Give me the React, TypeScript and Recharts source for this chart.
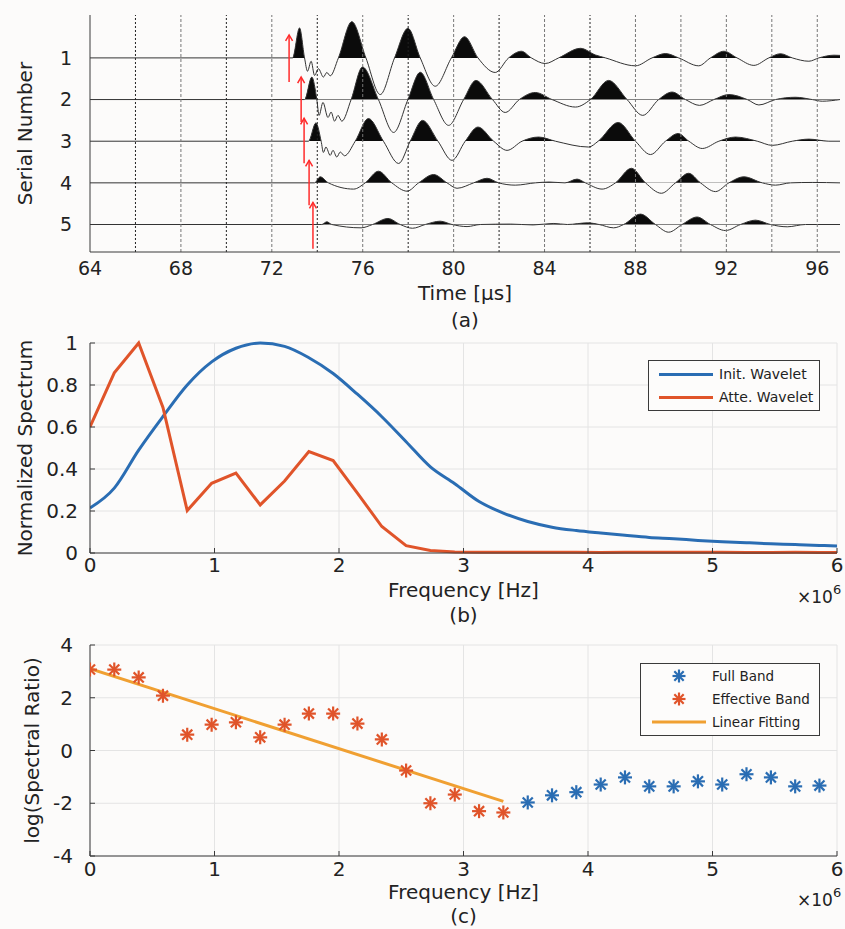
import React from 'react'
import {
  ComposedChart,
  Line,
  Area,
  Scatter,
  XAxis,
  YAxis,
  CartesianGrid,
  ReferenceLine,
  Legend,
} from 'recharts'

const FONT = '"DejaVu Sans", "Liberation Sans", Arial, sans-serif'
const INK = '#222'
const FRAME = '#3a3a3a'
const BLUE = '#2a6db3'
const ORANGE = '#e0542a'
const GOLD = '#f0a032'
const RED = '#ff2b2b'
const BG = '#fcfbfa'

// (a) waveforms: [time in µs, amplitude in trace-spacing units]
const trace1 = [
  [64, 0], [72.91, 0], [73.22, 0.72], [73.44, 0], [73.57, -0.32], [73.73, -0.08], [73.88, -0.42],
  [74.05, -0.26], [74.27, -0.46], [74.42, -0.35], [74.57, -0.43], [74.93, 0], [75.52, 0.87],
  [76.14, 0], [76.77, -0.88], [77.4, 0], [77.99, 0.71], [78.53, 0], [79.19, -0.68], [79.9, 0],
  [80.48, 0.51], [81.07, 0], [81.83, -0.35], [82.42, 0], [82.98, 0.16], [83.42, 0], [84.03, -0.135],
  [84.62, 0], [85.58, 0.23], [86.24, 0.07], [86.68, 0], [88.0, -0.19], [88.73, 0], [89.32, 0.105],
  [89.9, 0], [90.78, -0.19], [91.3, 0], [91.89, 0.16], [92.47, 0], [93.21, -0.18], [93.87, 0],
  [94.38, 0.1], [94.9, 0], [95.63, -0.08], [96.07, 0], [96.73, 0.065], [97, 0.06],
]
const trace2 = [
  [64, 0], [73.44, 0], [73.76, 0.54], [73.98, 0], [74.08, -0.38], [74.25, -0.07], [74.47, -0.43],
  [74.61, -0.3], [74.76, -0.52], [74.91, -0.38], [75.08, -0.52], [75.49, 0], [75.99, 0.78],
  [76.69, 0], [77.36, -0.79], [77.99, 0], [78.53, 0.655], [79.12, 0], [79.78, -0.62], [80.44, 0],
  [80.98, 0.46], [81.71, 0], [82.27, -0.31], [82.89, 0], [83.59, 0.17], [84.33, 0], [85.36, -0.18],
  [86.02, 0], [86.82, 0.46], [87.63, 0], [88.32, -0.38], [89.02, 0], [89.61, 0.18], [90.2, 0],
  [90.82, -0.14], [91.45, 0], [92.11, 0.12], [92.92, 0], [93.43, -0.13], [94.16, 0], [95.04, 0.055],
  [95.78, 0], [96.22, -0.04], [97, 0],
]
const trace3 = [
  [64, 0], [73.61, 0], [73.94, 0.44], [74.17, 0], [74.27, -0.27], [74.38, -0.14], [74.57, -0.34],
  [74.69, -0.22], [74.86, -0.38], [75.01, -0.26], [75.2, -0.35], [75.67, 0], [76.25, 0.545],
  [76.91, 0], [77.58, -0.535], [78.09, 0], [78.63, 0.5], [79.31, 0], [79.93, -0.46], [80.51, 0],
  [81.07, 0.34], [81.76, 0], [82.35, -0.22], [83.01, 0], [83.74, 0.1], [84.48, 0], [85.94, -0.14],
  [86.36, 0], [87.24, 0.45], [88.0, 0], [88.66, -0.32], [89.32, 0], [89.88, 0.185], [90.35, 0],
  [90.94, -0.175], [91.67, 0], [92.4, 0.1], [93.36, 0], [94.02, -0.1], [94.9, 0], [95.63, 0.05],
  [96.51, 0], [97, 0],
]
const trace4 = [
  [64, 0], [73.88, 0], [74.13, 0.145], [74.49, 0], [75.6, -0.15], [76.11, 0], [76.69, 0.28],
  [77.28, 0], [77.95, -0.2], [78.46, 0], [79.12, 0.2], [79.71, 0], [80.15, -0.13], [80.88, 0],
  [81.47, 0.11], [81.98, 0], [82.71, -0.055], [83.59, 0], [84.2, 0.02], [84.9, 0], [85.43, 0.09],
  [85.8, 0], [86.53, -0.15], [87.12, 0], [87.82, 0.35], [88.44, 0], [89.14, -0.25], [89.76, 0],
  [90.34, 0.23], [90.86, 0], [91.52, -0.21], [92.11, 0], [92.77, 0.145], [93.58, 0], [94.16, -0.055],
  [94.82, 0], [95.8, 0.01], [97, 0],
]
const trace5 = [
  [64, 0], [74.2, 0], [74.42, 0.065], [74.64, 0], [75.93, -0.08], [76.43, 0], [77.11, 0.145],
  [77.65, 0], [78.19, -0.09], [78.75, 0], [79.41, 0.08], [79.93, 0], [80.59, -0.05], [81.17, 0],
  [82.5, 0.01], [83.5, -0.01], [84.4, 0.025], [85.0, 0], [85.9, 0.04], [86.4, 0], [87.04, -0.08],
  [87.48, 0], [88.22, 0.25], [88.88, 0], [89.46, -0.185], [90.05, 0], [90.71, 0.18], [91.3, 0],
  [91.96, -0.145], [92.62, 0], [93.28, 0.105], [93.94, 0], [94.68, -0.055], [95.48, 0], [97, 0],
]
const traces = [trace1, trace2, trace3, trace4, trace5]
const serials = [1, 2, 3, 4, 5]
const timeTicks = [64, 68, 72, 76, 80, 84, 88, 92, 96]
const gridTimes = [66, 68, 70, 72, 74, 76, 78, 80, 82, 84, 86, 88, 90, 92, 94, 96]
const darkGrid = [66, 70, 74, 78, 82, 86]
const arrowTimes = [72.76, 73.29, 73.42, 73.64, 73.81]
const arrowTails = [1.58, 2.54, 3.53, 4.54, 5.58]
const arrowHeads = [0.45, 1.46, 2.45, 3.46, 4.47]

// (b) spectra, frequency in units of 10^6 Hz
const freqs = [
  0, 0.195, 0.391, 0.586, 0.781, 0.977, 1.172, 1.367, 1.563, 1.758, 1.953, 2.148, 2.344, 2.539,
  2.734, 2.93, 3.125, 3.32, 3.516, 3.711, 3.906, 4.102, 4.297, 4.492, 4.688, 4.883, 5.078, 5.273,
  5.469, 5.664, 5.859, 6.055,
]
const initSpec = [
  0.214, 0.309, 0.49, 0.65, 0.8, 0.91, 0.975, 1.0, 0.984, 0.93, 0.855, 0.756, 0.649, 0.53, 0.41,
  0.33, 0.245, 0.19, 0.15, 0.123, 0.107, 0.095, 0.084, 0.074, 0.068, 0.06, 0.054, 0.049, 0.044,
  0.04, 0.036, 0.033,
]
const atteSpec = [
  0.6, 0.858, 1.0, 0.693, 0.202, 0.332, 0.38, 0.229, 0.343, 0.483, 0.44, 0.285, 0.126, 0.035,
  0.012, 0.005, 0.004, 0.003, 0.003, 0.003, 0.003, 0.002, 0.003, 0.004, 0.004, 0.003, 0.003,
  0.002, 0.002, 0.003, 0.002, 0.002,
]

// (c) log spectral ratio
const effRatio = [
  3.07, 3.07, 2.77, 2.08, 0.6, 0.98, 1.07, 0.5, 0.98, 1.4, 1.4, 1.02, 0.42, -0.76, -2.0, -1.67,
  -2.3, -2.35,
]
const fullRatio = [-1.97, -1.7, -1.58, -1.29, -1.02, -1.36, -1.36, -1.17, -1.29, -0.9, -1.02, -1.36, -1.33]
const fitFreqs = [0, 3.32]
const fitVals = [3.1, -1.93]

const freqTicks = [0, 1, 2, 3, 4, 5, 6]
const specTicks = [0, 0.2, 0.4, 0.6, 0.8, 1]
const ratioTicks = [-4, -2, 0, 2, 4]

const traceData = traces.map((tr, i) => tr.map(([t, a]) => ({ t, y: serials[i] - a })))
// where the baseline sits inside each trace's bounding box (top = highest peak)
const baseFrac = traces.map((tr) => {
  const amps = tr.map((p) => p[1])
  const hi = Math.max(...amps)
  const lo = Math.min(...amps)
  return hi / (hi - lo)
})
const arrowData = arrowTimes.map((t, i) => [
  { t, y: arrowTails[i] },
  { t, y: arrowHeads[i] },
])
const specData = freqs.map((f, i) => ({ f, init: initSpec[i], atte: atteSpec[i] }))
const effData = effRatio.map((v, i) => ({ f: freqs[i], v }))
const fullData = fullRatio.map((v, i) => ({ f: freqs[i + effRatio.length], v }))
const fitData = fitFreqs.map((f, i) => ({ f, v: fitVals[i] }))

const tickA = { fontSize: 19, fill: INK, fontFamily: FONT }
const tickB = { fontSize: 20, fill: INK, fontFamily: FONT }

const arrowHead = (props: any) => {
  const { cx, cy, index } = props
  if (index !== 1) return <g key={`n${index}`} />
  return (
    <path
      key={`h${index}`}
      d={`M${cx - 3.5},${cy + 6} L${cx},${cy} L${cx + 3.5},${cy + 6}`}
      stroke={RED}
      strokeWidth={1.5}
      fill="none"
    />
  )
}

const Asterisk = ({ cx, cy, color, r = 7 }: any) => {
  const d = r * 0.72
  return (
    <g stroke={color} strokeWidth={2.2}>
      <line x1={cx - r} y1={cy} x2={cx + r} y2={cy} />
      <line x1={cx} y1={cy - r} x2={cx} y2={cy + r} />
      <line x1={cx - d} y1={cy - d} x2={cx + d} y2={cy + d} />
      <line x1={cx - d} y1={cy + d} x2={cx + d} y2={cy - d} />
    </g>
  )
}

// bottom axis title + panel caption (+ optional ×10^6)
const xTitle = (title: string, caption: string, titleDy: number, capDy: number, expDy?: number) => (props: any) => {
  const vb = props.viewBox || { x: 90, y: 0, width: 747, height: 0 }
  const cx = vb.x + vb.width / 2
  return (
    <g fill={INK} fontFamily={FONT}>
      <text x={cx} y={vb.y + titleDy} textAnchor="middle" fontSize={20}>{title}</text>
      <text x={cx} y={vb.y + capDy} textAnchor="middle" fontSize={20}>{caption}</text>
      {expDy !== undefined && (
        <text x={vb.x + vb.width - 40} y={vb.y + expDy} fontSize={17}>
          ×10<tspan dy={-9} fontSize={13}>6</tspan>
        </text>
      )}
    </g>
  )
}

const yTitle = (title: string, baseX: number) => (props: any) => {
  const vb = props.viewBox || { x: 0, y: 0, width: 90, height: 200 }
  const cy = vb.y + vb.height / 2
  const x = vb.x + baseX
  return (
    <text x={x} y={cy} transform={`rotate(-90 ${x} ${cy})`} textAnchor="middle" fontSize={20} fill={INK} fontFamily={FONT}>
      {title}
    </text>
  )
}

const specSeries = [
  { name: 'Init. Wavelet', color: BLUE },
  { name: 'Atte. Wavelet', color: ORANGE },
]

const SpecLegend = () => (
  <div style={{ width: 172, height: 51, border: `1px solid ${FRAME}`, background: '#fdfcfb', boxSizing: 'border-box', position: 'relative', fontFamily: FONT, fontSize: 14, color: INK }}>
    {specSeries.map((s, i) => (
      <div key={s.name} style={{ position: 'absolute', left: 10, top: 2 + i * 23, height: 22, display: 'flex', alignItems: 'center' }}>
        <div style={{ width: 54, borderTop: `3px solid ${s.color}`, marginRight: 6 }} />
        <span>{s.name}</span>
      </div>
    ))}
  </div>
)

const ratioSeries = [
  { name: 'Full Band', color: BLUE, kind: 'star' },
  { name: 'Effective Band', color: ORANGE, kind: 'star' },
  { name: 'Linear Fitting', color: GOLD, kind: 'line' },
]

const RatioLegend = () => (
  <div style={{ width: 180, height: 73, border: `1px solid ${FRAME}`, background: '#fdfcfb', boxSizing: 'border-box', position: 'relative', fontFamily: FONT, fontSize: 13.5, color: INK }}>
    {ratioSeries.map((s, i) => (
      <div key={s.name} style={{ position: 'absolute', left: 11, top: 1 + i * 23, height: 22, display: 'flex', alignItems: 'center' }}>
        <svg width={54} height={16} style={{ marginRight: 6 }}>
          {s.kind === 'line' ? (
            <line x1={0} y1={8} x2={54} y2={8} stroke={s.color} strokeWidth={3} />
          ) : (
            <Asterisk cx={27} cy={8} color={s.color} r={6.5} />
          )}
        </svg>
        <span>{s.name}</span>
      </div>
    ))}
  </div>
)

export default function App() {
  return (
    <div style={{ position: 'absolute', left: 0, top: 0, width: 845, height: 929, background: BG, fontFamily: FONT }}>
      {/* (a) waveforms */}
      <div style={{ position: 'absolute', left: 0, top: 0 }}>
        <ComposedChart width={845} height={335} margin={{ top: 15, right: 5, bottom: 0, left: 0 }}>
          <defs>
            {baseFrac.map((fr, i) => (
              <linearGradient key={`lg${i}`} id={`lobe${i}`} x1="0" y1="0" x2="0" y2="1">
                <stop offset={fr} stopColor="#0b0b0b" stopOpacity={1} />
                <stop offset={fr} stopColor="#0b0b0b" stopOpacity={0} />
              </linearGradient>
            ))}
          </defs>
          <XAxis
            dataKey="t"
            type="number"
            domain={[64, 97]}
            ticks={timeTicks}
            allowDataOverflow
            tickLine={false}
            tickSize={0}
            tickMargin={10}
            tick={tickA}
            axisLine={{ stroke: FRAME }}
            height={83}
            label={xTitle('Time [µs]', '(a)', 48, 75)}
          />
          <XAxis xAxisId="top" orientation="top" type="number" domain={[64, 97]} tick={false} tickLine={false} height={0} axisLine={{ stroke: FRAME }} />
          <YAxis
            type="number"
            domain={[-0.03, 5.66]}
            reversed
            ticks={serials}
            allowDataOverflow
            tickLine={false}
            tickSize={0}
            tickMargin={18}
            tick={tickA}
            axisLine={{ stroke: FRAME }}
            width={90}
            label={yTitle('Serial Number', 32)}
          />
          <YAxis yAxisId="right" orientation="right" type="number" domain={[0, 1]} tick={false} tickLine={false} width={0} axisLine={{ stroke: FRAME }} />
          {gridTimes.map((g) => (
            <ReferenceLine
              key={`g${g}`}
              x={g}
              stroke={darkGrid.includes(g) ? '#222' : '#777'}
              strokeDasharray={darkGrid.includes(g) ? '2 2' : '3 2'}
            />
          ))}
          {traceData.map((d, i) => (
            <Area
              key={`f${i}`}
              data={d}
              dataKey="y"
              type="monotone"
              baseValue={serials[i]}
              stroke="#333"
              strokeWidth={1}
              fill={`url(#lobe${i})`}
              fillOpacity={1}
              isAnimationActive={false}
            />
          ))}
          {arrowData.map((d, i) => (
            <Line
              key={`r${i}`}
              data={d}
              dataKey="y"
              type="linear"
              stroke={RED}
              strokeWidth={1.5}
              dot={arrowHead}
              isAnimationActive={false}
            />
          ))}
        </ComposedChart>
      </div>

      {/* (b) normalized spectrum */}
      <div style={{ position: 'absolute', left: 0, top: 320 }}>
        <ComposedChart width={845} height={310} data={specData} margin={{ top: 23, right: 8, bottom: 0, left: 0 }}>
          <CartesianGrid stroke="#e4e4e4" />
          <XAxis
            dataKey="f"
            type="number"
            domain={[0, 6]}
            ticks={freqTicks}
            allowDataOverflow
            tickSize={-5}
            tickMargin={10}
            tickLine={{ stroke: FRAME }}
            tick={tickB}
            axisLine={{ stroke: FRAME }}
            height={77}
            label={xTitle('Frequency [Hz]', '(b)', 44, 69, 50)}
          />
          <XAxis xAxisId="top" orientation="top" type="number" domain={[0, 6]} tick={false} tickLine={false} height={0} axisLine={{ stroke: FRAME }} />
          <YAxis
            type="number"
            domain={[0, 1]}
            ticks={specTicks}
            tickSize={-5}
            tickMargin={17}
            tickLine={{ stroke: FRAME }}
            tick={tickB}
            axisLine={{ stroke: FRAME }}
            width={90}
            label={yTitle('Normalized Spectrum', 32)}
          />
          <YAxis yAxisId="right" orientation="right" type="number" domain={[0, 1]} tick={false} tickLine={false} width={0} axisLine={{ stroke: FRAME }} />
          <Legend
            layout="vertical"
            verticalAlign="middle"
            align="center"
            content={() => <SpecLegend />}
            wrapperStyle={{ left: 648, top: 40, width: 172, height: 51 }}
          />
          <Line dataKey="init" name="Init. Wavelet" type="monotone" stroke={BLUE} strokeWidth={3} dot={false} isAnimationActive={false} />
          <Line dataKey="atte" name="Atte. Wavelet" type="linear" stroke={ORANGE} strokeWidth={3} dot={false} isAnimationActive={false} />
        </ComposedChart>
      </div>

      {/* (c) log spectral ratio */}
      <div style={{ position: 'absolute', left: 0, top: 625 }}>
        <ComposedChart width={845} height={304} margin={{ top: 20, right: 8, bottom: 0, left: 0 }}>
          <CartesianGrid stroke="#e4e4e4" />
          <XAxis
            dataKey="f"
            type="number"
            domain={[0, 6]}
            ticks={freqTicks}
            allowDataOverflow
            tickSize={-5}
            tickMargin={11}
            tickLine={{ stroke: FRAME }}
            tick={tickB}
            axisLine={{ stroke: FRAME }}
            height={73}
            label={xTitle('Frequency [Hz]', '(c)', 43, 67, 50)}
          />
          <XAxis xAxisId="top" orientation="top" type="number" domain={[0, 6]} tick={false} tickLine={false} height={0} axisLine={{ stroke: FRAME }} />
          <YAxis
            dataKey="v"
            type="number"
            domain={[-4, 4]}
            ticks={ratioTicks}
            tickSize={-5}
            tickMargin={22}
            tickLine={{ stroke: FRAME }}
            tick={tickB}
            axisLine={{ stroke: FRAME }}
            width={90}
            label={yTitle('log(Spectral Ratio)', 39)}
          />
          <YAxis yAxisId="right" orientation="right" type="number" domain={[0, 1]} tick={false} tickLine={false} width={0} axisLine={{ stroke: FRAME }} />
          <Legend
            layout="vertical"
            verticalAlign="middle"
            align="center"
            content={() => <RatioLegend />}
            wrapperStyle={{ left: 640, top: 38, width: 180, height: 73 }}
          />
          <Scatter
            name="Full Band"
            data={fullData}
            dataKey="v"
            shape={(p: any) => <Asterisk cx={p.cx} cy={p.cy} color={BLUE} />}
            isAnimationActive={false}
          />
          <Scatter
            name="Effective Band"
            data={effData}
            dataKey="v"
            shape={(p: any) => <Asterisk cx={p.cx} cy={p.cy} color={ORANGE} />}
            isAnimationActive={false}
          />
          <Line
            name="Linear Fitting"
            data={fitData}
            dataKey="v"
            type="linear"
            stroke={GOLD}
            strokeWidth={3}
            dot={false}
            isAnimationActive={false}
          />
        </ComposedChart>
      </div>
    </div>
  )
}
